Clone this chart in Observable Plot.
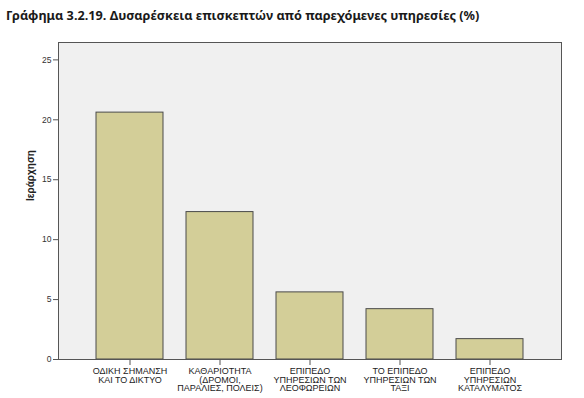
<!DOCTYPE html>
<html><head><meta charset="utf-8">
<script src="https://cdn.jsdelivr.net/npm/d3@7"></script>
<script src="https://cdn.jsdelivr.net/npm/@observablehq/plot@0.6"></script>
<style>
body{margin:0;background:#fff;width:584px;overflow:hidden}
#title{height:28px;box-sizing:border-box;padding:6px 0 0 6px;font-family:"Noto Sans",sans-serif;font-weight:bold;font-size:12.7px;color:#1a1a1a;white-space:nowrap}
</style></head><body>
<div id="title">Γράφημα 3.2.19. Δυσαρέσκεια επισκεπτών από παρεχόμενες υπηρεσίες (%)</div>
<div id="chart"></div>
<script>
const categories = ["ΟΔΙΚΗ ΣΗΜΑΝΣΗ\nΚΑΙ ΤΟ ΔΙΚΤΥΟ", "ΚΑΘΑΡΙΟΤΗΤΑ\n(ΔΡΟΜΟΙ,\nΠΑΡΑΛΙΕΣ, ΠΟΛΕΙΣ)", "ΕΠΙΠΕΔΟ\nΥΠΗΡΕΣΙΩΝ ΤΩΝ\nΛΕΟΦΩΡΕΙΩΝ", "ΤΟ ΕΠΙΠΕΔΟ\nΥΠΗΡΕΣΙΩΝ ΤΩΝ\nΤΑΞΙ", "ΕΠΙΠΕΔΟ\nΥΠΗΡΕΣΙΩΝ\nΚΑΤΑΛΥΜΑΤΟΣ"];
const values = [20.6, 12.3, 5.6, 4.2, 1.7];
const yTicks = [0, 5, 10, 15, 20, 25];
const yLabel = "Ιεράρχηση";

const data = categories.map((c, i) => ({cat: c, v: values[i]}));

const chart = Plot.plot({
  width: 584, height: 370,
  marginTop: 14, marginBottom: 39, marginLeft: 58, marginRight: 23,
  style: {fontFamily: "'Liberation Sans', Arial, sans-serif", fontSize: "8.5px", background: "#fff"},
  x: {domain: categories, paddingInner: 0.26, paddingOuter: 0.40, label: null},
  y: {domain: [0, 26.45], ticks: yTicks, label: null},
  marks: [
    Plot.frame({fill: "#f0f0f0", stroke: null}),
    Plot.barY(data, {x: "cat", y: "v", fill: "#d3ce98", stroke: "#4a4a4a", strokeWidth: 1}),
    Plot.frame({stroke: "#555", strokeWidth: 1}),
    Plot.axisY({ticks: yTicks, tickSize: 5, tickPadding: 2, fill: "#333", stroke: "#555", label: null}),
    Plot.axisX({tickSize: 6, tickPadding: 2, fill: "#222", stroke: "#555", fontSize: 9, lineHeight: 0.98, label: null}),
    Plot.text([yLabel], {frameAnchor: "left", dx: -28, rotate: -90, fontWeight: "bold", fontSize: 10, fill: "#222"})
  ]
});
document.getElementById("chart").appendChild(chart);
</script>
</body></html>
